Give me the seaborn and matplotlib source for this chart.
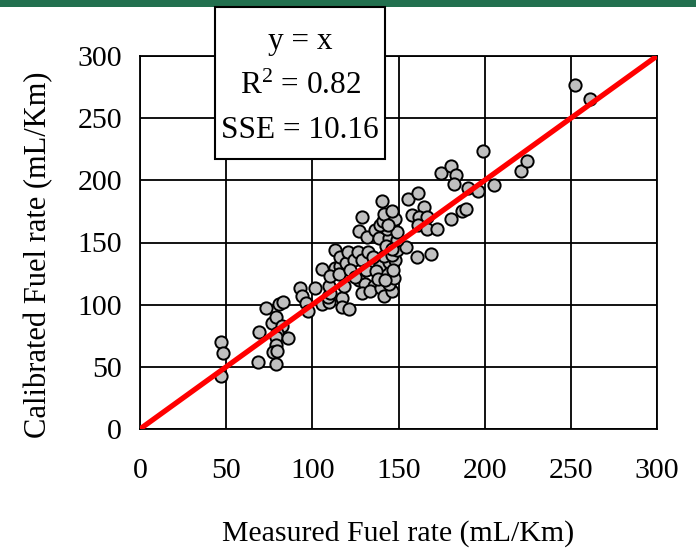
import numpy as np
import pandas as pd
import matplotlib
matplotlib.use("Agg")
import matplotlib.pyplot as plt
import seaborn as sns
from matplotlib.patches import Rectangle

measured = [46.8, 48.1, 46.8, 69.0, 68.6, 73.4, 76.7, 78.7, 80.6, 82.9, 82.5, 79.6, 79.2, 86.0, 79.0, 77.1, 79.6, 79.0,
            93.1, 94.1, 96.6, 97.6, 101.8, 105.7, 109.6, 109.0, 110.5, 109.6, 117.3, 117.3, 121.0, 118.3,
            105.7, 113.0, 115.8, 110.5, 115.4, 113.4, 116.3, 119.6, 120.8, 124.1, 126.4, 128.9, 132.2,
            127.0, 130.8, 135.7, 128.9, 133.7, 140.1, 141.4, 146.3, 144.3, 147.2, 140.1, 142.4, 139.5,
            144.3, 148.2, 141.4, 146.3, 149.2, 154.4, 160.8, 168.9,
            126.8, 128.7, 131.8, 136.6, 138.6, 144.3, 149.4, 143.6, 149.4, 139.5, 141.1, 141.6, 148.2,
            140.3, 155.4, 161.2, 164.6, 157.9, 161.7, 166.8, 161.3, 166.8, 172.6, 174.9, 180.7, 183.4,
            182.0, 180.7, 186.8, 189.4, 190.1, 195.9, 199.0, 205.2, 221.3, 224.5, 252.2, 261.3,
            122.0, 125.0, 131.0, 135.0, 137.0, 143.0, 146.0, 147.0, 138.0, 142.0, 144.0, 146.0]
calibrated = [70.1, 60.8, 42.6, 78.2, 54.1, 97.5, 85.4, 90.2, 100.4, 101.8, 82.7, 77.3, 74.1, 72.8, 67.5, 62.1, 62.7, 52.2,
              113.5, 107.1, 101.0, 94.8, 113.5, 100.4, 102.2, 106.3, 109.0, 114.9, 105.5, 98.2, 96.9, 114.9,
              129.0, 129.8, 131.0, 122.9, 125.0, 143.8, 138.4, 133.6, 142.4, 136.3, 142.4, 136.3, 142.4,
              119.7, 117.0, 114.9, 109.5, 111.1, 113.8, 107.1, 111.1, 117.0, 121.8, 125.0, 129.0, 131.7,
              134.4, 135.7, 139.0, 139.8, 143.8, 146.4, 138.4, 140.6,
              159.6, 170.8, 154.5, 159.8, 154.0, 154.0, 151.8, 160.6, 158.2, 163.9, 167.3, 173.2, 169.2,
              183.4, 184.7, 189.8, 178.6, 172.4, 170.5, 170.5, 163.9, 160.9, 160.9, 205.9, 211.2, 204.6,
              197.3, 169.2, 175.3, 177.3, 194.1, 191.2, 223.3, 196.0, 207.2, 215.5, 276.3, 265.1,
              128.0, 122.0, 128.0, 138.0, 127.0, 147.0, 145.0, 128.0, 121.0, 120.0, 164.0, 175.0]

fit_x = [0, 300]
fit_y = [0, 300]
ticks = [0, 50, 100, 150, 200, 250, 300]
box_lines = ["y = x", "R$^{2}$ = 0.82", "SSE = 10.16"]

sns.set_style("white")
plt.rcParams['font.family'] = ['Liberation Serif', 'DejaVu Serif']
plt.rcParams['mathtext.fontset'] = 'custom'
plt.rcParams['mathtext.rm'] = 'Liberation Serif'
plt.rcParams['mathtext.it'] = 'Liberation Serif:italic'
plt.rcParams['text.color'] = 'black'
plt.rcParams['axes.labelcolor'] = 'black'
plt.rcParams['xtick.color'] = 'black'
plt.rcParams['ytick.color'] = 'black'

df = pd.DataFrame({"Measured": measured, "Calibrated": calibrated})
line_df = pd.DataFrame({"x": fit_x, "y": fit_y})

fig = plt.figure(figsize=(6.96, 5.51), dpi=100)
ax = fig.add_axes([140/696, 1-429/551, (657-140)/696, (429-56)/551])

sns.scatterplot(data=df, x="Measured", y="Calibrated", ax=ax, s=78, color="#C0C0C0",
                edgecolor="black", linewidth=1.4, zorder=3)
sns.lineplot(data=line_df, x="x", y="y", ax=ax, color="red", linewidth=3.8, zorder=4)

ax.set_xlim(0, 300)
ax.set_ylim(0, 300)
ax.set_xticks(ticks)
ax.set_yticks(ticks)
ax.set_xticklabels([str(t) for t in ticks])
ax.set_yticklabels([str(t) for t in ticks])
ax.grid(True, color="black", linewidth=1.3)
ax.set_axisbelow(True)
for sp in ax.spines.values():
    sp.set_visible(True)
    sp.set_color("black")
    sp.set_linewidth(1.3)
ax.tick_params(axis='both', direction='out', length=5, width=1.3, color='black',
               labelcolor='black', labelsize=21.5)
ax.tick_params(axis='y', pad=8)
ax.tick_params(axis='x', pad=16)
ax.set_xlabel("Measured Fuel rate (mL/Km)", fontsize=21.5, labelpad=26, color='black')
ax.set_ylabel("Calibrated Fuel rate (mL/Km)", fontsize=22, labelpad=17, color='black')
ax.yaxis.label.set_y(0.466)

# green header bar
fig.patches.append(Rectangle((0, 1-7/551), 1, 7/551, transform=fig.transFigure,
                             facecolor="#22704F", edgecolor="none", zorder=10))
# annotation box
fig.patches.append(Rectangle((215/696, 1-159/551), 170/696, 152/551, transform=fig.transFigure,
                             facecolor="white", edgecolor="black", linewidth=1.5, zorder=10))
for txt, ypx in zip(box_lines, [42, 86, 130]):
    fig.text(300/696, 1-ypx/551, txt, ha="center", va="center", fontsize=22.5,
             color='black', zorder=11)

fig.savefig("out.png", dpi=100)
